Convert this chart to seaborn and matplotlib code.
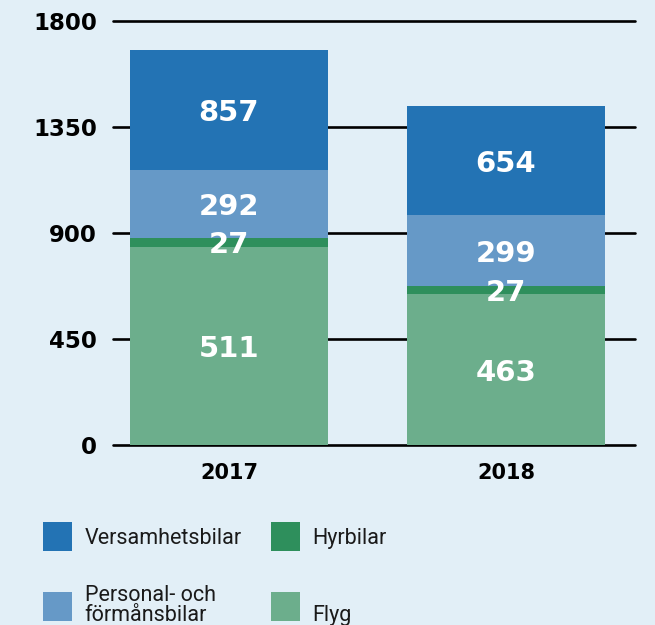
import matplotlib
matplotlib.use("Agg")
import matplotlib.pyplot as plt
from matplotlib.patches import Patch
import seaborn as sns
import pandas as pd
import numpy as np

# ---- data (segment heights; labels as printed) ----
years = ["2017", "2018"]
flyg_h = [842, 640]
hyrbilar_h = [37, 35]
personal_h = [288, 301]
versamhet_h = [510, 463]

flyg_lbl = ["511", "463"]
hyrbilar_lbl = ["27", "27"]
personal_lbl = ["292", "299"]
versamhet_lbl = ["857", "654"]

yticks = [0, 450, 900, 1350, 1800]

# ---- style ----
bg = "#E2EFF7"
c_flyg = "#6CAE8C"
c_hyr = "#2E8F5C"
c_pers = "#6699C7"
c_vers = "#2373B4"

sns.set_theme(style="white")
plt.rcParams["font.family"] = ["DejaVu Sans"]

fig = plt.figure(figsize=(6.55, 6.25), dpi=100, facecolor=bg)
ax = fig.add_axes([113 / 655, 1 - 445 / 625, (635 - 113) / 655, (445 - 21) / 625])
ax.set_facecolor(bg)

heights = [flyg_h, hyrbilar_h, personal_h, versamhet_h]
labels = [flyg_lbl, hyrbilar_lbl, personal_lbl, versamhet_lbl]
colors = [c_flyg, c_hyr, c_pers, c_vers]

cum = np.cumsum(np.array(heights, dtype=float), axis=0)
bottoms = np.vstack([np.zeros(len(years)), cum[:-1]])

# cumulative bars drawn from the top segment down
for k in range(len(heights) - 1, -1, -1):
    df = pd.DataFrame({"year": years, "value": cum[k]})
    sns.barplot(data=df, x="year", y="value", color=colors[k], saturation=1,
                width=0.715, ax=ax, order=years, linewidth=0, zorder=2)

# value labels
for k in range(len(heights)):
    for i in range(len(years)):
        yc = bottoms[k][i] + heights[k][i] / 2
        ax.text(i, yc, labels[k][i], ha="center", va="center_baseline",
                color="white", fontsize=21, fontweight="bold", zorder=5)

ax.set_ylim(0, 1800)
ax.set_xlim(-0.419, 1.466)
ax.set_yticks(yticks)
ax.set_yticklabels([str(v) for v in yticks])
ax.set_xlabel("")
ax.set_ylabel("")
ax.set_axisbelow(True)
ax.yaxis.grid(True, color="black", linewidth=1.9)
for gl in ax.get_ygridlines():
    gl.set_clip_on(False)
ax.xaxis.grid(False)
for s in ax.spines.values():
    s.set_visible(False)
ax.tick_params(axis="y", length=0, pad=11.5, labelsize=16.5)
ax.tick_params(axis="x", length=0, pad=13, labelsize=15)
for t in ax.get_yticklabels() + ax.get_xticklabels():
    t.set_fontweight("bold")
    t.set_color("black")

# legend
handles = [Patch(facecolor=c_vers, edgecolor="none"),
           Patch(facecolor=c_pers, edgecolor="none"),
           Patch(facecolor=c_hyr, edgecolor="none"),
           Patch(facecolor=c_flyg, edgecolor="none")]
leg_labels = ["Versamhetsbilar", "Personal- och\nförmånsbilar", "Hyrbilar", "\nFlyg"]
leg = fig.legend(handles, leg_labels, ncol=2, loc="upper left",
                 bbox_to_anchor=(43 / 655, 1 - 522 / 625), frameon=False,
                 borderpad=0, borderaxespad=0, handlelength=1.35, handleheight=1.70,
                 handletextpad=0.59, columnspacing=1.33, labelspacing=1.58,
                 prop={"family": ["Roboto", "DejaVu Sans"], "size": 15.5})
for t in leg.get_texts():
    t.set_color("#1a1a1a")
    t.set_linespacing(0.95)

fig.savefig("out.png", dpi=100, facecolor=bg)
